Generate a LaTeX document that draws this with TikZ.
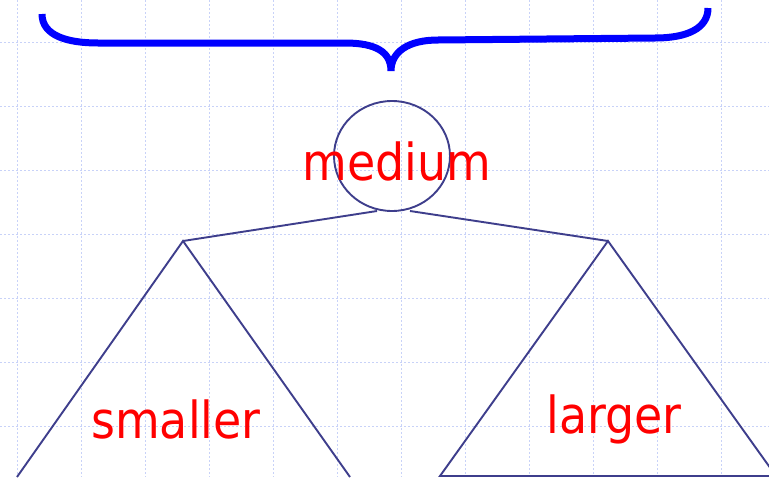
\documentclass[tikz,border=0pt]{standalone}
\usepackage{fontspec}
\setsansfont{DejaVu Sans Condensed}
\definecolor{gridblue}{RGB}{200,210,248}
\definecolor{treeline}{RGB}{62,62,140}
\definecolor{bracecol}{RGB}{0,0,255}
\tikzset{
  labeltext/.style = {text = red, font = \sffamily\fontsize{51}{51}\selectfont, inner sep = 0pt},
  treeedge/.style = {draw = treeline, line width = 1.9pt},
  gridline/.style = {gridblue, dash pattern = on 2pt off 2pt, line width = 0.9pt}
}
\begin{document}
\begin{tikzpicture} [x = 1pt, y = -1pt]
	\useasboundingbox [fill = white] (0,0) rectangle (769,477);
	% background grid
	\foreach \gx in {0,...,11}
		\draw [gridline] (17+64*\gx,0) -- (17+64*\gx,477);
	\foreach \gy in {0,...,6}
		\draw [gridline] (0,42+64*\gy) -- (769,42+64*\gy);
	% brace
	\draw [bracecol, line width = 7pt] (42,14) .. controls (42,36) and (68,43) .. (98,43)
		-- (345,43) .. controls (376,43) and (391,52) .. (391,71)
		.. controls (391,52) and (408,40) .. (438,40)
		-- (655,38) .. controls (688,38) and (708,28) .. (708,8);
	% root
	\draw [treeedge] (392,156) ellipse (58pt and 55pt);
	\node [labeltext] (med) at (397,161) {medium};
	\coordinate (medl) at (377,211);
	\coordinate (medr) at (410,211);
	\coordinate (lefttop) at (183,241);
	\coordinate (righttop) at (608,241);
	\draw [treeedge] (medl) -- (lefttop);
	\draw [treeedge] (medr) -- (righttop);
	% subtrees
	\draw [treeedge] (17,477) -- (lefttop) -- (350,477);
	\draw [treeedge] (righttop) -- (776,476) -- (440,476) -- cycle;
	\node [labeltext] (small) at (176,419) {smaller};
	\node [labeltext] (large) at (614,419) {larger};
\end{tikzpicture}
\end{document}
